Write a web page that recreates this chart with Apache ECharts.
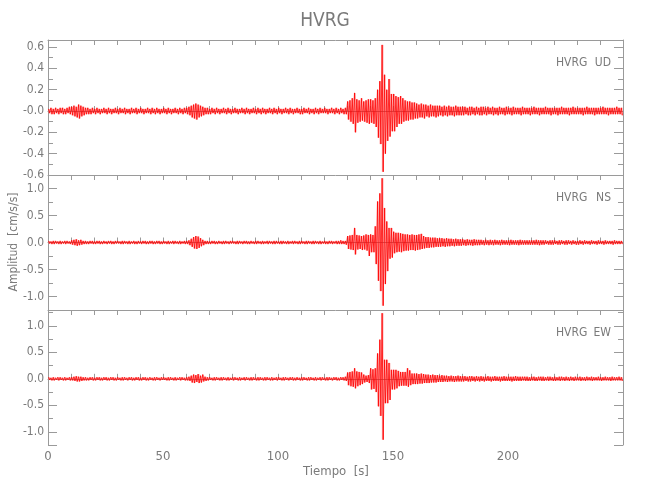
<!DOCTYPE html>
<html><head><meta charset="utf-8">
<script src="https://cdn.jsdelivr.net/npm/echarts@6/dist/echarts.min.js"></script>
<style>html,body{margin:0;padding:0;background:#fff}#c{width:650px;height:500px}</style>
</head><body><div id="c"></div>
<script>
// Time bins (seconds), one per bin start, 0..249
const TIMES = Array.from({length: 250}, (_, i) => i);
const X_TICK_LABELS = [0, 50, 100, 150, 200];
const STATION = 'HVRG';
const COMPONENTS = ['UD', 'NS', 'EW'];

// Upper / lower envelope per 1 s bin (cm/s/s)
const UD_POS = [
.02,.03,.02,.03,.02,.03,.03,.02,.03,.04, .04,.05,.04,.06,.05,.04,.03,.03,.02,.03,
.02,.03,.02,.02,.03,.02,.03,.02,.02,.03, .02,.03,.02,.03,.02,.02,.03,.02,.03,.02,
.03,.02,.02,.03,.02,.03,.02,.03,.02,.02, .03,.02,.03,.02,.02,.03,.02,.03,.02,.03,
.03,.04,.05,.06,.07,.06,.05,.04,.03,.03, .02,.03,.02,.03,.02,.02,.03,.02,.03,.02,
.02,.03,.02,.02,.03,.02,.03,.02,.02,.03, .02,.03,.02,.03,.02,.02,.03,.02,.03,.02,
.03,.02,.02,.03,.02,.03,.02,.02,.03,.02, .02,.03,.02,.03,.02,.02,.03,.02,.03,.02,
.03,.02,.02,.03,.02,.03,.02,.03,.02,.03, .09,.10,.12,.17,.11,.10,.12,.09,.10,.11,
.11,.10,.12,.20,.28,.62,.34,.20,.30,.16, .16,.14,.13,.14,.12,.10,.09,.09,.08,.08,
.07,.06,.07,.06,.06,.05,.06,.05,.05,.05, .05,.04,.05,.04,.05,.04,.04,.05,.04,.04,
.04,.04,.03,.04,.04,.03,.04,.03,.04,.04, .03,.04,.03,.04,.03,.03,.04,.03,.03,.04,
.03,.03,.04,.03,.03,.03,.04,.03,.03,.03, .03,.04,.03,.03,.03,.03,.04,.03,.03,.03,
.03,.03,.03,.04,.03,.03,.03,.03,.04,.03, .03,.03,.03,.03,.04,.03,.03,.03,.03,.03,
.03,.04,.03,.03,.03,.03,.03,.04,.03,.03];
const UD_NEG = [
-.02,-.03,-.03,-.02,-.03,-.02,-.03,-.03,-.02,-.03, -.04,-.05,-.06,-.07,-.05,-.04,-.03,-.03,-.03,-.02,
-.03,-.02,-.03,-.02,-.02,-.03,-.02,-.03,-.02,-.02, -.03,-.02,-.02,-.03,-.02,-.03,-.02,-.02,-.03,-.02,
-.02,-.03,-.02,-.02,-.03,-.02,-.03,-.02,-.03,-.02, -.02,-.03,-.02,-.03,-.02,-.02,-.03,-.02,-.03,-.02,
-.03,-.04,-.06,-.07,-.08,-.06,-.05,-.04,-.03,-.03, -.03,-.02,-.03,-.02,-.03,-.02,-.02,-.03,-.02,-.03,
-.02,-.02,-.03,-.02,-.02,-.03,-.02,-.03,-.02,-.02, -.03,-.02,-.03,-.02,-.03,-.02,-.02,-.03,-.02,-.03,
-.02,-.03,-.02,-.02,-.03,-.02,-.03,-.02,-.02,-.03, -.03,-.02,-.02,-.03,-.02,-.03,-.02,-.03,-.02,-.02,
-.02,-.03,-.02,-.02,-.03,-.02,-.03,-.02,-.03,-.03, -.08,-.10,-.12,-.20,-.11,-.10,-.09,-.10,-.11,-.12,
-.11,-.12,-.15,-.25,-.31,-.57,-.40,-.28,-.24,-.19, -.19,-.15,-.12,-.12,-.10,-.09,-.09,-.08,-.08,-.07,
-.07,-.06,-.06,-.07,-.05,-.06,-.05,-.05,-.06,-.05, -.04,-.05,-.04,-.05,-.04,-.04,-.05,-.04,-.04,-.04,
-.04,-.03,-.04,-.04,-.03,-.04,-.03,-.04,-.04,-.03, -.04,-.03,-.03,-.04,-.03,-.04,-.03,-.03,-.04,-.03,
-.03,-.04,-.03,-.03,-.03,-.04,-.03,-.03,-.03,-.04, -.03,-.03,-.03,-.04,-.03,-.03,-.03,-.03,-.04,-.03,
-.03,-.04,-.03,-.03,-.03,-.03,-.04,-.03,-.03,-.03, -.03,-.03,-.04,-.03,-.03,-.03,-.03,-.04,-.03,-.03,
-.03,-.03,-.03,-.04,-.03,-.03,-.03,-.03,-.03,-.04];

const NS_POS = [
.03,.02,.03,.03,.02,.03,.02,.03,.03,.02, .04,.05,.06,.04,.05,.03,.03,.02,.03,.03,
.02,.03,.03,.02,.03,.02,.03,.03,.02,.03, .03,.02,.03,.03,.02,.03,.02,.03,.02,.03,
.02,.03,.03,.02,.03,.03,.02,.03,.03,.02, .03,.02,.03,.02,.03,.03,.02,.03,.02,.03,
.03,.04,.07,.10,.12,.11,.08,.05,.03,.03, .02,.03,.03,.02,.03,.02,.03,.03,.02,.03,
.03,.02,.03,.03,.02,.03,.03,.02,.03,.02, .03,.03,.02,.03,.02,.03,.03,.02,.03,.03,
.02,.03,.03,.02,.03,.02,.03,.03,.02,.03, .03,.02,.03,.03,.02,.03,.03,.02,.03,.02,
.03,.02,.03,.03,.02,.03,.03,.04,.03,.03, .12,.13,.14,.27,.14,.13,.12,.13,.15,.14,
.15,.14,.30,.76,.91,1.19,.64,.39,.27,.27, .20,.18,.18,.17,.16,.15,.15,.14,.15,.14,
.14,.15,.16,.12,.10,.10,.09,.09,.09,.08, .08,.08,.07,.08,.07,.07,.06,.07,.06,.06,
.06,.05,.06,.05,.05,.06,.05,.05,.05,.04, .05,.04,.05,.04,.05,.04,.04,.05,.04,.04,
.04,.05,.04,.04,.04,.05,.04,.04,.04,.04, .04,.04,.05,.04,.04,.04,.04,.03,.04,.04,
.04,.03,.04,.04,.03,.04,.04,.03,.04,.03, .03,.04,.03,.04,.03,.03,.04,.03,.03,.04,
.03,.03,.04,.03,.03,.03,.04,.03,.03,.03];
const NS_NEG = [
-.02,-.03,-.03,-.02,-.03,-.03,-.02,-.03,-.02,-.03, -.04,-.05,-.06,-.05,-.04,-.03,-.03,-.03,-.02,-.03,
-.03,-.02,-.03,-.03,-.02,-.03,-.02,-.03,-.03,-.02, -.02,-.03,-.03,-.02,-.03,-.03,-.02,-.03,-.03,-.02,
-.03,-.02,-.03,-.03,-.02,-.03,-.03,-.02,-.03,-.03, -.02,-.03,-.03,-.02,-.03,-.02,-.03,-.03,-.02,-.03,
-.03,-.05,-.08,-.11,-.12,-.10,-.07,-.05,-.03,-.03, -.03,-.02,-.03,-.03,-.02,-.03,-.03,-.02,-.03,-.02,
-.02,-.03,-.03,-.02,-.03,-.02,-.03,-.03,-.02,-.03, -.03,-.02,-.03,-.03,-.02,-.03,-.02,-.03,-.03,-.02,
-.03,-.03,-.02,-.03,-.03,-.02,-.03,-.02,-.03,-.03, -.02,-.03,-.03,-.02,-.03,-.03,-.02,-.03,-.03,-.02,
-.03,-.03,-.02,-.03,-.02,-.03,-.03,-.03,-.03,-.04, -.12,-.13,-.14,-.22,-.13,-.12,-.14,-.13,-.15,-.25,
-.18,-.18,-.40,-.71,-.90,-1.17,-.77,-.53,-.30,-.28, -.20,-.18,-.17,-.18,-.16,-.15,-.15,-.14,-.14,-.15,
-.14,-.13,-.12,-.11,-.10,-.10,-.09,-.09,-.08,-.08, -.08,-.07,-.08,-.07,-.07,-.06,-.07,-.06,-.06,-.06,
-.05,-.06,-.05,-.05,-.06,-.05,-.05,-.05,-.04,-.05, -.04,-.05,-.04,-.05,-.04,-.04,-.05,-.04,-.04,-.04,
-.05,-.04,-.04,-.04,-.05,-.04,-.04,-.04,-.04,-.04, -.04,-.04,-.04,-.05,-.04,-.04,-.03,-.04,-.04,-.04,
-.03,-.04,-.04,-.03,-.04,-.04,-.03,-.04,-.03,-.04, -.04,-.03,-.04,-.03,-.03,-.04,-.03,-.03,-.04,-.03,
-.03,-.04,-.03,-.03,-.03,-.04,-.03,-.03,-.03,-.03];

const EW_POS = [
.03,.02,.03,.02,.03,.03,.02,.03,.02,.03, .03,.04,.05,.04,.04,.03,.03,.02,.03,.03,
.02,.03,.03,.02,.03,.03,.02,.03,.03,.02, .03,.02,.03,.03,.02,.03,.03,.02,.03,.03,
.02,.03,.03,.02,.03,.02,.03,.03,.02,.03, .03,.02,.03,.03,.02,.03,.02,.03,.03,.02,
.03,.04,.06,.08,.07,.09,.06,.08,.04,.03, .03,.02,.03,.03,.02,.03,.03,.02,.03,.02,
.03,.03,.02,.03,.02,.03,.03,.02,.03,.03, .02,.03,.03,.02,.03,.03,.02,.03,.02,.03,
.03,.02,.03,.03,.02,.03,.03,.02,.03,.02, .03,.03,.02,.03,.03,.02,.03,.02,.03,.03,
.02,.03,.03,.02,.03,.03,.02,.03,.03,.04, .12,.13,.14,.20,.14,.13,.12,.08,.06,.07,
.20,.18,.20,.48,.74,1.24,.36,.36,.30,.17, .17,.17,.15,.13,.13,.13,.20,.16,.10,.10,
.10,.09,.10,.09,.08,.08,.07,.08,.07,.07, .06,.07,.06,.06,.05,.06,.05,.05,.06,.05,
.05,.05,.04,.05,.05,.04,.05,.04,.05,.04, .04,.05,.04,.04,.05,.04,.04,.04,.05,.04,
.04,.04,.04,.05,.04,.04,.04,.04,.04,.03, .04,.04,.03,.04,.04,.04,.03,.04,.04,.03,
.04,.03,.04,.04,.03,.04,.03,.04,.03,.04, .03,.04,.03,.03,.04,.03,.04,.03,.03,.04,
.03,.03,.04,.03,.03,.04,.03,.03,.04,.03];
const EW_NEG = [
-.02,-.03,-.03,-.02,-.03,-.02,-.03,-.03,-.02,-.03, -.03,-.04,-.05,-.05,-.04,-.03,-.03,-.03,-.02,-.03,
-.03,-.02,-.03,-.03,-.02,-.03,-.03,-.02,-.03,-.03, -.02,-.03,-.03,-.02,-.03,-.02,-.03,-.03,-.02,-.03,
-.03,-.02,-.03,-.03,-.02,-.03,-.03,-.02,-.03,-.02, -.02,-.03,-.03,-.02,-.03,-.03,-.02,-.03,-.02,-.03,
-.03,-.04,-.07,-.08,-.06,-.08,-.07,-.05,-.04,-.03, -.02,-.03,-.03,-.02,-.03,-.03,-.02,-.03,-.03,-.02,
-.03,-.02,-.03,-.03,-.02,-.03,-.02,-.03,-.03,-.02, -.03,-.03,-.02,-.03,-.03,-.02,-.03,-.03,-.02,-.03,
-.02,-.03,-.03,-.02,-.03,-.02,-.03,-.03,-.02,-.03, -.03,-.02,-.03,-.03,-.02,-.03,-.03,-.02,-.03,-.02,
-.03,-.03,-.02,-.03,-.02,-.03,-.03,-.02,-.03,-.04, -.12,-.14,-.15,-.18,-.14,-.12,-.10,-.07,-.06,-.08,
-.20,-.19,-.25,-.52,-.70,-1.15,-.46,-.46,-.40,-.20, -.20,-.18,-.14,-.13,-.13,-.13,-.15,-.12,-.10,-.10,
-.10,-.09,-.09,-.08,-.08,-.08,-.07,-.07,-.07,-.06, -.06,-.06,-.05,-.06,-.05,-.05,-.06,-.05,-.05,-.05,
-.05,-.04,-.05,-.05,-.04,-.05,-.04,-.05,-.04,-.05, -.04,-.04,-.05,-.04,-.04,-.04,-.05,-.04,-.04,-.04,
-.04,-.05,-.04,-.04,-.04,-.04,-.03,-.04,-.04,-.04, -.03,-.04,-.04,-.03,-.04,-.04,-.03,-.04,-.03,-.04,
-.04,-.03,-.04,-.03,-.04,-.03,-.04,-.03,-.04,-.03, -.03,-.04,-.03,-.04,-.03,-.03,-.04,-.03,-.03,-.03,
-.04,-.03,-.03,-.03,-.04,-.03,-.03,-.03,-.03,-.04];

const POS = [UD_POS, NS_POS, EW_POS];
const NEG = [UD_NEG, NS_NEG, EW_NEG];

// ---------- layout / style ----------
const AX = '#9a9a9a', TX = '#7a7a7a';
const FONT = "'Liberation Sans Narrow','DejaVu Sans Condensed','Roboto Condensed',sans-serif";
const LEFT = 48, RIGHT = 27, TOPS = [40, 175, 310], H = 135;
const Y_CFG = [
  {min: -0.6, max: 0.666, interval: 0.2, step: 0.2, zeroLabel: '-0.0'},
  {min: -1.25, max: 1.25, splitNumber: 5, step: 0.5, zeroLabel: '0.0'},
  {min: -1.25, max: 1.3, splitNumber: 5, step: 0.5, zeroLabel: '0.0'}
];

function traceData(p, n) {
  const d = [];
  for (let i = 0; i < TIMES.length; i++) {
    d.push([TIMES[i] + 0.25, p[i]]);
    d.push([TIMES[i] + 0.75, n[i]]);
  }
  return d;
}
function isMult(v, s) { const r = v / s; return Math.abs(r - Math.round(r)) < 1e-6; }

const grid = [], xAxis = [], yAxis = [], series = [];
for (let k = 0; k < 3; k++) {
  grid.push({left: LEFT, right: RIGHT, top: TOPS[k], height: H});
  const xBase = {
    type: 'value', gridIndex: k, min: 0, max: 250, interval: 10,
    axisLine: {lineStyle: {color: AX, width: 1}},
    axisTick: {inside: true, length: 5, lineStyle: {color: AX}},
    splitLine: {show: false}
  };
  xAxis.push(Object.assign({}, xBase, {
    position: 'bottom',
    axisLabel: {show: k === 2, color: TX, fontSize: 13, fontFamily: FONT, margin: 5,
      formatter: v => X_TICK_LABELS.indexOf(Math.round(v)) >= 0 && isMult(v, 1) ? String(Math.round(v)) : ''}
  }));
  const c = Y_CFG[k];
  const yBase = {
    type: 'value', gridIndex: k, min: c.min, max: c.max,
    axisLine: {show: true, onZero: false, lineStyle: {color: AX, width: 1}},
    axisTick: {inside: true, length: 9, lineStyle: {color: AX}},
    minorTick: {show: true, splitNumber: 2, length: 5, lineStyle: {color: AX}},
    splitLine: {show: false}
  };
  if (c.interval) yBase.interval = c.interval; else yBase.splitNumber = c.splitNumber;
  yAxis.push(Object.assign({}, yBase, {
    position: 'left',
    axisLabel: {color: TX, fontSize: 12, fontFamily: FONT, margin: 4,
      formatter: v => {
        if (!isMult(v, c.step)) return '';
        if (Math.abs(v) < 1e-9) return c.zeroLabel;
        return v.toFixed(1);
      }}
  }));
  // filled envelope: one rectangle per 1 s bin from lower to upper envelope
  series.push({
    type: 'custom', xAxisIndex: k, yAxisIndex: k, silent: true, animation: false,
    data: TIMES.map((t, i) => [t, POS[k][i], NEG[k][i]]),
    encode: {x: 0, y: [1, 2]},
    clip: true,
    renderItem: (params, api) => {
      const t = api.value(0);
      const a = api.coord([t + 0.15, api.value(1)]);
      const b = api.coord([t + 0.85, api.value(2)]);
      return {type: 'rect', shape: {x: a[0], y: a[1], width: b[0] - a[0], height: b[1] - a[1]},
        style: {fill: 'rgba(255,60,60,0.45)'}};
    }
  });
  series.push({
    type: 'line', xAxisIndex: k, yAxisIndex: k,
    data: traceData(POS[k], NEG[k]),
    showSymbol: false, symbol: 'none', silent: true,
    lineStyle: {color: '#ff0000', width: 0.8},
    animation: false
  });
}
for (let k = 0; k < 3; k++) {
  xAxis.push({
    type: 'value', gridIndex: k, min: 0, max: 250, interval: 10, position: 'top',
    axisLine: {onZero: false, lineStyle: {color: AX, width: 1}},
    axisTick: {inside: true, length: 5, lineStyle: {color: AX}},
    axisLabel: {show: false}, splitLine: {show: false}
  });
  const c = Y_CFG[k];
  const yr = {
    type: 'value', gridIndex: k, min: c.min, max: c.max, position: 'right',
    axisLine: {show: true, onZero: false, lineStyle: {color: AX, width: 1}},
    axisTick: {inside: true, length: 9, lineStyle: {color: AX}},
    minorTick: {show: true, splitNumber: 2, length: 5, lineStyle: {color: AX}},
    axisLabel: {show: false}, splitLine: {show: false}
  };
  if (c.interval) yr.interval = c.interval; else yr.splitNumber = c.splitNumber;
  yAxis.push(yr);
}

const graphic = [
  {type: 'text', left: 'center', top: 12, style: {text: STATION, fill: TX, font: '19px ' + FONT}},
  {type: 'text', x: 14, y: 242, rotation: Math.PI / 2, style: {text: 'Amplitud  [cm/s/s]', fill: TX, font: '12px ' + FONT, align: 'center', verticalAlign: 'middle'}},
  {type: 'text', x: 336, y: 472, style: {text: 'Tiempo  [s]', fill: TX, font: '13px ' + FONT, align: 'center', verticalAlign: 'middle'}}
];
COMPONENTS.forEach((comp, k) => {
  graphic.push({type: 'text', x: 556, y: TOPS[k] + 23, style: {text: STATION, fill: TX, font: '12px ' + FONT, verticalAlign: 'middle'}});
  graphic.push({type: 'text', x: 611, y: TOPS[k] + 23, style: {text: comp, fill: TX, font: '12px ' + FONT, align: 'right', verticalAlign: 'middle'}});
});

const chart = echarts.init(document.getElementById('c'), null, {renderer: 'canvas'});
chart.setOption({
  backgroundColor: '#ffffff',
  animation: false,
  grid, xAxis, yAxis, series, graphic
});
</script></body></html>
